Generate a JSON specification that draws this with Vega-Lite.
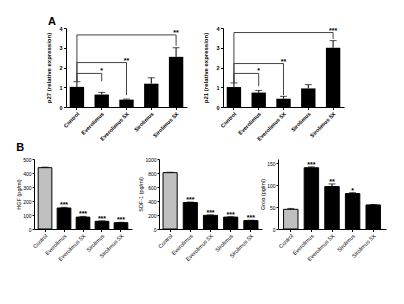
{
  "$schema": "https://vega.github.io/schema/vega-lite/v6.json",
  "background": "white",
  "padding": {"left": 16, "top": 16, "right": 2, "bottom": 2},
  "config": {
    "view": {"stroke": null},
    "font": "Liberation Sans",
    "axis": {"labelFont": "Liberation Sans", "titleFont": "Liberation Sans", "labelFontWeight": "bold", "titleFontWeight": "bold", "labelFontSize": 5.5, "titleFontSize": 6, "labelColor": "black", "titleColor": "black", "domainColor": "black", "tickColor": "black", "grid": false, "tickSize": 2.5, "domainWidth": 1, "tickWidth": 1, "labelPadding": 1.5, "titlePadding": 3},
    "axisX": {"labelAngle": -45},
    "title": {"font": "Liberation Sans", "fontSize": 11, "fontWeight": "bold", "anchor": "start", "color": "black", "offset": 0}
  },
  "datasets": {
    "p27": [
      {"group": "Control", "value": 1.02, "upper": 1.28},
      {"group": "Everolimus", "value": 0.63, "upper": 0.74},
      {"group": "Everolimus 5X", "value": 0.37, "upper": 0.4},
      {"group": "Sirolimus", "value": 1.18, "upper": 1.48},
      {"group": "Sirolimus 5X", "value": 2.54, "upper": 3.0}
    ],
    "p27s": [
      {"from": "Control", "to": "Everolimus", "base": 1.28, "level": 1.7, "drop": 1.3, "star": "*"},
      {"from": "Control", "to": "Everolimus 5X", "base": 1.28, "level": 2.25, "drop": 0.6, "star": "**"},
      {"from": "Control", "to": "Sirolimus 5X", "base": 1.28, "level": 3.65, "drop": 3.1, "star": "**"}
    ],
    "p21": [
      {"group": "Control", "value": 1.01, "upper": 1.22},
      {"group": "Everolimus", "value": 0.73, "upper": 0.84},
      {"group": "Everolimus 5X", "value": 0.42, "upper": 0.54},
      {"group": "Sirolimus", "value": 0.94, "upper": 1.13},
      {"group": "Sirolimus 5X", "value": 3.0, "upper": 3.36}
    ],
    "p21s": [
      {"from": "Control", "to": "Everolimus", "base": 1.22, "level": 1.7, "drop": 1.05, "star": "*"},
      {"from": "Control", "to": "Everolimus 5X", "base": 1.22, "level": 2.2, "drop": 0.6, "star": "**"},
      {"from": "Control", "to": "Sirolimus 5X", "base": 1.22, "level": 3.77, "drop": 3.45, "star": "***"}
    ],
    "hgf": [
      {"group": "Control", "value": 438, "upper": 442, "star": ""},
      {"group": "Everolimus", "value": 150, "upper": 155, "star": "***"},
      {"group": "Everolimus 5X", "value": 85, "upper": 90, "star": "***"},
      {"group": "Sirolimus", "value": 55, "upper": 58, "star": "***"},
      {"group": "Sirolimus 5X", "value": 45, "upper": 48, "star": "***"}
    ],
    "sdf": [
      {"group": "Control", "value": 805, "upper": 811, "star": ""},
      {"group": "Everolimus", "value": 378, "upper": 385, "star": "***"},
      {"group": "Everolimus 5X", "value": 195, "upper": 202, "star": "***"},
      {"group": "Sirolimus", "value": 170, "upper": 175, "star": "***"},
      {"group": "Sirolimus 5X", "value": 120, "upper": 125, "star": "***"}
    ],
    "gro": [
      {"group": "Control", "value": 45, "upper": 47, "star": ""},
      {"group": "Everolimus", "value": 140, "upper": 142, "star": "***"},
      {"group": "Everolimus 5X", "value": 97, "upper": 103, "star": "**"},
      {"group": "Sirolimus", "value": 81, "upper": 83, "star": "*"},
      {"group": "Sirolimus 5X", "value": 55, "upper": 56, "star": ""}
    ]
  },
  "spacing": 0,
  "vconcat": [
    {
      "bounds": "flush",
      "spacing": 31,
      "hconcat": [
        {
          "width": 1, "height": 79,
          "data": {"values": []},
          "mark": "point"
        },
        {
          "bounds": "flush",
          "spacing": 36,
          "hconcat": [
            {
              "title": {"text": "A", "frame": "bounds", "offset": -1, "dx": 2},
              "width": 121, "height": 79,
              "layer": [
                {
                  "data": {"name": "p27"},
                  "mark": {"type": "bar", "color": "black"},
                  "encoding": {
                    "x": {"field": "group", "type": "nominal", "title": null, "scale": {"domain": ["Control", "Everolimus", "Everolimus 5X", "Sirolimus", "Sirolimus 5X"], "paddingInner": 0.42, "paddingOuter": 0.15}},
                    "y": {"field": "value", "type": "quantitative", "title": "p27 (relative expression)", "scale": {"domain": [0, 4]}, "axis": {"values": [0, 1, 2, 3, 4], "titlePadding": 7}}
                  }
                },
                {
                  "data": {"name": "p27"},
                  "mark": {"type": "rule", "color": "black", "strokeWidth": 1},
                  "encoding": {
                    "x": {"field": "group", "type": "nominal", "title": null},
                    "y": {"field": "value", "type": "quantitative", "title": "p27 (relative expression)", "axis": {"values": [0, 1, 2, 3, 4], "titlePadding": 7}},
                    "y2": {"field": "upper"}
                  }
                },
                {
                  "data": {"name": "p27"},
                  "mark": {"type": "tick", "color": "black", "thickness": 1, "size": 7},
                  "encoding": {
                    "x": {"field": "group", "type": "nominal", "title": null},
                    "y": {"field": "upper", "type": "quantitative", "title": "p27 (relative expression)", "axis": {"values": [0, 1, 2, 3, 4], "titlePadding": 7}}
                  }
                },
                {
                  "data": {"name": "p27s"},
                  "mark": {"type": "rule", "color": "#444", "strokeWidth": 1},
                  "encoding": {
                    "x": {"field": "from", "type": "nominal", "title": null, "bandPosition": 0.5},
                    "y": {"field": "base", "type": "quantitative", "title": "p27 (relative expression)", "axis": {"values": [0, 1, 2, 3, 4], "titlePadding": 7}},
                    "y2": {"field": "level"}
                  }
                },
                {
                  "data": {"name": "p27s"},
                  "mark": {"type": "rule", "color": "#444", "strokeWidth": 1},
                  "encoding": {
                    "x": {"field": "from", "type": "nominal", "title": null, "bandPosition": 0.5},
                    "x2": {"field": "to", "bandPosition": 0.5},
                    "y": {"field": "level", "type": "quantitative", "title": "p27 (relative expression)", "axis": {"values": [0, 1, 2, 3, 4], "titlePadding": 7}}
                  }
                },
                {
                  "data": {"name": "p27s"},
                  "mark": {"type": "rule", "color": "#444", "strokeWidth": 1},
                  "encoding": {
                    "x": {"field": "to", "type": "nominal", "title": null, "bandPosition": 0.5},
                    "y": {"field": "level", "type": "quantitative", "title": "p27 (relative expression)", "axis": {"values": [0, 1, 2, 3, 4], "titlePadding": 7}},
                    "y2": {"field": "drop"}
                  }
                },
                {
                  "data": {"name": "p27s"},
                  "mark": {"type": "text", "color": "black", "fontSize": 7, "fontWeight": "bold", "baseline": "alphabetic", "dy": 0},
                  "encoding": {
                    "x": {"field": "to", "type": "nominal", "title": null, "bandPosition": 0.5},
                    "y": {"field": "level", "type": "quantitative", "title": "p27 (relative expression)", "axis": {"values": [0, 1, 2, 3, 4], "titlePadding": 7}},
                    "text": {"field": "star"}
                  }
                }
              ]
            },
            {
              "width": 121, "height": 79,
              "layer": [
                {
                  "data": {"name": "p21"},
                  "mark": {"type": "bar", "color": "black"},
                  "encoding": {
                    "x": {"field": "group", "type": "nominal", "title": null, "scale": {"domain": ["Control", "Everolimus", "Everolimus 5X", "Sirolimus", "Sirolimus 5X"], "paddingInner": 0.42, "paddingOuter": 0.15}},
                    "y": {"field": "value", "type": "quantitative", "title": "p21 (relative expression)", "scale": {"domain": [0, 4]}, "axis": {"values": [0, 1, 2, 3, 4], "titlePadding": 7}}
                  }
                },
                {
                  "data": {"name": "p21"},
                  "mark": {"type": "rule", "color": "black", "strokeWidth": 1},
                  "encoding": {
                    "x": {"field": "group", "type": "nominal", "title": null},
                    "y": {"field": "value", "type": "quantitative", "title": "p21 (relative expression)", "axis": {"values": [0, 1, 2, 3, 4], "titlePadding": 7}},
                    "y2": {"field": "upper"}
                  }
                },
                {
                  "data": {"name": "p21"},
                  "mark": {"type": "tick", "color": "black", "thickness": 1, "size": 7},
                  "encoding": {
                    "x": {"field": "group", "type": "nominal", "title": null},
                    "y": {"field": "upper", "type": "quantitative", "title": "p21 (relative expression)", "axis": {"values": [0, 1, 2, 3, 4], "titlePadding": 7}}
                  }
                },
                {
                  "data": {"name": "p21s"},
                  "mark": {"type": "rule", "color": "#444", "strokeWidth": 1},
                  "encoding": {
                    "x": {"field": "from", "type": "nominal", "title": null, "bandPosition": 0.5},
                    "y": {"field": "base", "type": "quantitative", "title": "p21 (relative expression)", "axis": {"values": [0, 1, 2, 3, 4], "titlePadding": 7}},
                    "y2": {"field": "level"}
                  }
                },
                {
                  "data": {"name": "p21s"},
                  "mark": {"type": "rule", "color": "#444", "strokeWidth": 1},
                  "encoding": {
                    "x": {"field": "from", "type": "nominal", "title": null, "bandPosition": 0.5},
                    "x2": {"field": "to", "bandPosition": 0.5},
                    "y": {"field": "level", "type": "quantitative", "title": "p21 (relative expression)", "axis": {"values": [0, 1, 2, 3, 4], "titlePadding": 7}}
                  }
                },
                {
                  "data": {"name": "p21s"},
                  "mark": {"type": "rule", "color": "#444", "strokeWidth": 1},
                  "encoding": {
                    "x": {"field": "to", "type": "nominal", "title": null, "bandPosition": 0.5},
                    "y": {"field": "level", "type": "quantitative", "title": "p21 (relative expression)", "axis": {"values": [0, 1, 2, 3, 4], "titlePadding": 7}},
                    "y2": {"field": "drop"}
                  }
                },
                {
                  "data": {"name": "p21s"},
                  "mark": {"type": "text", "color": "black", "fontSize": 7, "fontWeight": "bold", "baseline": "alphabetic", "dy": 0},
                  "encoding": {
                    "x": {"field": "to", "type": "nominal", "title": null, "bandPosition": 0.5},
                    "y": {"field": "level", "type": "quantitative", "title": "p21 (relative expression)", "axis": {"values": [0, 1, 2, 3, 4], "titlePadding": 7}},
                    "text": {"field": "star"}
                  }
                }
              ]
            }
          ]
        }
      ]
    },
    {
      "title": {"text": "B", "offset": 4},
      "bounds": "flush",
      "spacing": 27,
      "hconcat": [
        {
          "width": 98, "height": 70,
          "data": {"name": "hgf"},
          "layer": [
            {
              "mark": {"type": "bar", "stroke": "black", "strokeWidth": 1},
              "encoding": {
                "x": {"field": "group", "type": "nominal", "title": null, "scale": {"domain": ["Control", "Everolimus", "Everolimus 5X", "Sirolimus", "Sirolimus 5X"], "paddingInner": 0.28, "paddingOuter": 0.22}, "axis": {"labelFontWeight": "normal"}},
                "y": {"field": "value", "type": "quantitative", "title": "HGF (pg/ml)", "scale": {"domain": [0, 500]}, "axis": {"values": [0, 100, 200, 300, 400, 500], "format": "d", "labelFontWeight": "normal", "titleFontWeight": "normal", "labelFontSize": 5, "titleFontSize": 5.5, "titlePadding": 1.5, "labelPadding": 1, "tickSize": 2}},
                "fill": {"condition": {"test": "datum.group === 'Control'", "value": "#c0c0c0"}, "value": "black"}
              }
            },
            {
              "mark": {"type": "rule", "color": "black", "strokeWidth": 1},
              "encoding": {
                "x": {"field": "group", "type": "nominal", "title": null, "axis": {"labelFontWeight": "normal"}},
                "y": {"field": "value", "type": "quantitative", "title": "HGF (pg/ml)", "axis": {"values": [0, 100, 200, 300, 400, 500], "format": "d", "labelFontWeight": "normal", "titleFontWeight": "normal", "labelFontSize": 5, "titleFontSize": 5.5, "titlePadding": 1.5, "labelPadding": 1, "tickSize": 2}},
                "y2": {"field": "upper"}
              }
            },
            {
              "mark": {"type": "tick", "color": "black", "thickness": 1, "size": 7},
              "encoding": {
                "x": {"field": "group", "type": "nominal", "title": null, "axis": {"labelFontWeight": "normal"}},
                "y": {"field": "upper", "type": "quantitative", "title": "HGF (pg/ml)", "axis": {"values": [0, 100, 200, 300, 400, 500], "format": "d", "labelFontWeight": "normal", "titleFontWeight": "normal", "labelFontSize": 5, "titleFontSize": 5.5, "titlePadding": 1.5, "labelPadding": 1, "tickSize": 2}}
              }
            },
            {
              "mark": {"type": "text", "color": "black", "fontSize": 7, "fontWeight": "bold", "baseline": "alphabetic", "dy": 0},
              "encoding": {
                "x": {"field": "group", "type": "nominal", "title": null, "axis": {"labelFontWeight": "normal"}},
                "y": {"field": "upper", "type": "quantitative", "title": "HGF (pg/ml)", "axis": {"values": [0, 100, 200, 300, 400, 500], "format": "d", "labelFontWeight": "normal", "titleFontWeight": "normal", "labelFontSize": 5, "titleFontSize": 5.5, "titlePadding": 1.5, "labelPadding": 1, "tickSize": 2}},
                "text": {"field": "star"}
              }
            }
          ]
        },
        {
          "bounds": "flush",
          "spacing": 16,
          "hconcat": [
            {
              "width": 103, "height": 70,
              "data": {"name": "sdf"},
              "layer": [
                {
                  "mark": {"type": "bar", "stroke": "black", "strokeWidth": 1},
                  "encoding": {
                    "x": {"field": "group", "type": "nominal", "title": null, "scale": {"domain": ["Control", "Everolimus", "Everolimus 5X", "Sirolimus", "Sirolimus 5X"], "paddingInner": 0.3, "paddingOuter": 0.2}, "axis": {"labelFontWeight": "normal"}},
                    "y": {"field": "value", "type": "quantitative", "title": "SDF-1 (pg/ml)", "scale": {"domain": [0, 1000]}, "axis": {"values": [0, 200, 400, 600, 800, 1000], "format": "d", "labelFontWeight": "normal", "titleFontWeight": "normal", "labelFontSize": 5, "titleFontSize": 5.5, "titlePadding": 1.5, "labelPadding": 1, "tickSize": 2}},
                    "fill": {"condition": {"test": "datum.group === 'Control'", "value": "#c0c0c0"}, "value": "black"}
                  }
                },
                {
                  "mark": {"type": "rule", "color": "black", "strokeWidth": 1},
                  "encoding": {
                    "x": {"field": "group", "type": "nominal", "title": null, "axis": {"labelFontWeight": "normal"}},
                    "y": {"field": "value", "type": "quantitative", "title": "SDF-1 (pg/ml)", "axis": {"values": [0, 200, 400, 600, 800, 1000], "format": "d", "labelFontWeight": "normal", "titleFontWeight": "normal", "labelFontSize": 5, "titleFontSize": 5.5, "titlePadding": 1.5, "labelPadding": 1, "tickSize": 2}},
                    "y2": {"field": "upper"}
                  }
                },
                {
                  "mark": {"type": "tick", "color": "black", "thickness": 1, "size": 7},
                  "encoding": {
                    "x": {"field": "group", "type": "nominal", "title": null, "axis": {"labelFontWeight": "normal"}},
                    "y": {"field": "upper", "type": "quantitative", "title": "SDF-1 (pg/ml)", "axis": {"values": [0, 200, 400, 600, 800, 1000], "format": "d", "labelFontWeight": "normal", "titleFontWeight": "normal", "labelFontSize": 5, "titleFontSize": 5.5, "titlePadding": 1.5, "labelPadding": 1, "tickSize": 2}}
                  }
                },
                {
                  "mark": {"type": "text", "color": "black", "fontSize": 7, "fontWeight": "bold", "baseline": "alphabetic", "dy": 0},
                  "encoding": {
                    "x": {"field": "group", "type": "nominal", "title": null, "axis": {"labelFontWeight": "normal"}},
                    "y": {"field": "upper", "type": "quantitative", "title": "SDF-1 (pg/ml)", "axis": {"values": [0, 200, 400, 600, 800, 1000], "format": "d", "labelFontWeight": "normal", "titleFontWeight": "normal", "labelFontSize": 5, "titleFontSize": 5.5, "titlePadding": 1.5, "labelPadding": 1, "tickSize": 2}},
                    "text": {"field": "star"}
                  }
                }
              ]
            },
            {
              "width": 108, "height": 70,
              "data": {"name": "gro"},
              "layer": [
                {
                  "mark": {"type": "bar", "stroke": "black", "strokeWidth": 1},
                  "encoding": {
                    "x": {"field": "group", "type": "nominal", "title": null, "scale": {"domain": ["Control", "Everolimus", "Everolimus 5X", "Sirolimus", "Sirolimus 5X"], "paddingInner": 0.3, "paddingOuter": 0.27}, "axis": {"labelFontWeight": "normal"}},
                    "y": {"field": "value", "type": "quantitative", "title": "Groα (pg/ml)", "scale": {"domain": [0, 150]}, "axis": {"values": [0, 50, 100, 150], "format": "d", "labelFontWeight": "normal", "titleFontWeight": "normal", "labelFontSize": 5, "titleFontSize": 5.5, "titlePadding": 1.5, "labelPadding": 1, "tickSize": 2}},
                    "fill": {"condition": {"test": "datum.group === 'Control'", "value": "#c0c0c0"}, "value": "black"}
                  }
                },
                {
                  "mark": {"type": "rule", "color": "black", "strokeWidth": 1},
                  "encoding": {
                    "x": {"field": "group", "type": "nominal", "title": null, "axis": {"labelFontWeight": "normal"}},
                    "y": {"field": "value", "type": "quantitative", "title": "Groα (pg/ml)", "axis": {"values": [0, 50, 100, 150], "format": "d", "labelFontWeight": "normal", "titleFontWeight": "normal", "labelFontSize": 5, "titleFontSize": 5.5, "titlePadding": 1.5, "labelPadding": 1, "tickSize": 2}},
                    "y2": {"field": "upper"}
                  }
                },
                {
                  "mark": {"type": "tick", "color": "black", "thickness": 1, "size": 7},
                  "encoding": {
                    "x": {"field": "group", "type": "nominal", "title": null, "axis": {"labelFontWeight": "normal"}},
                    "y": {"field": "upper", "type": "quantitative", "title": "Groα (pg/ml)", "axis": {"values": [0, 50, 100, 150], "format": "d", "labelFontWeight": "normal", "titleFontWeight": "normal", "labelFontSize": 5, "titleFontSize": 5.5, "titlePadding": 1.5, "labelPadding": 1, "tickSize": 2}}
                  }
                },
                {
                  "mark": {"type": "text", "color": "black", "fontSize": 7, "fontWeight": "bold", "baseline": "alphabetic", "dy": 0},
                  "encoding": {
                    "x": {"field": "group", "type": "nominal", "title": null, "axis": {"labelFontWeight": "normal"}},
                    "y": {"field": "upper", "type": "quantitative", "title": "Groα (pg/ml)", "axis": {"values": [0, 50, 100, 150], "format": "d", "labelFontWeight": "normal", "titleFontWeight": "normal", "labelFontSize": 5, "titleFontSize": 5.5, "titlePadding": 1.5, "labelPadding": 1, "tickSize": 2}},
                    "text": {"field": "star"}
                  }
                }
              ]
            }
          ]
        }
      ]
    }
  ]
}
